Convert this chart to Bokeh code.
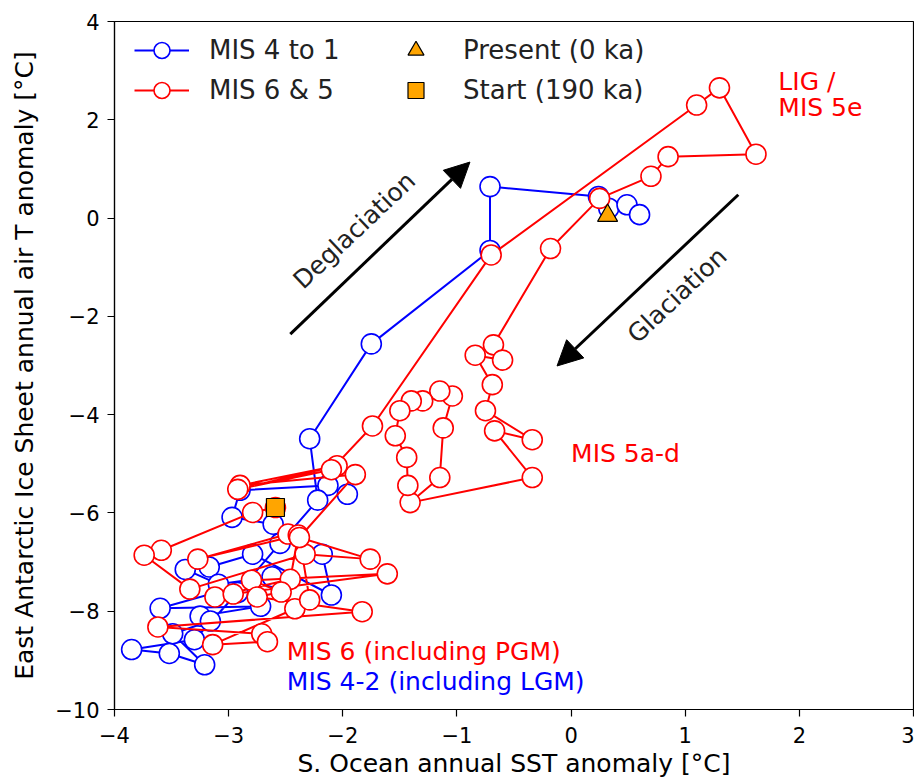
import math
from bokeh.plotting import figure
from bokeh.models import Label, Arrow, NormalHead, Legend, LegendItem, FixedTicker
from bokeh.embed import file_html
from bokeh.resources import INLINE

# ---- data ----
blue_x = [-1.96, -2.13, -2.90, -2.97, -2.61, -2.18, -2.10, -2.79, -3.17, -3.38, -3.09, -2.62,
          -3.60, -2.72, -3.25, -3.16, -3.49, -3.21, -3.52, -3.85, -3.30, -2.92, -2.55, -2.22,
          -2.29, -1.75, -0.71, -0.71, 0.24, 0.33, 0.49, 0.60]
blue_y = [-5.62, -5.44, -5.54, -6.09, -6.23, -6.84, -7.67, -6.84, -7.10, -7.15, -7.45, -7.30,
          -7.94, -7.90, -8.10, -8.20, -8.46, -9.09, -8.86, -8.78, -8.58, -7.62, -6.62, -5.74,
          -4.49, -2.56, -0.66, 0.64, 0.44, 0.20, 0.27, 0.07]

red_x = [-2.59, -2.79, -3.59, -3.74, -3.34, -2.33, -1.76, -2.48, -3.27, -2.39, -2.46, -3.12,
         -2.96, -1.61, -2.80, -2.54, -2.75, -1.83, -3.62, -2.71, -2.66, -3.14, -2.42, -2.29,
         -2.38, -1.89, -2.90, -2.05, -2.92, -2.10, -1.74, -0.70, 1.10, 1.30, 1.62, 0.85,
         0.70, 0.25, -0.18, -0.68, -0.60, -0.84, -0.69, -0.75, -0.34, -0.67, -0.34, -1.41,
         -1.15, -1.12, -1.04, -1.15, -1.30, -1.40, -1.50, -1.54, -1.44, -1.43]
red_y = [-5.89, -5.99, -6.76, -6.86, -7.55, -6.84, -6.94, -6.43, -6.94, -6.45, -7.35, -7.71,
         -7.65, -7.24, -7.37, -7.61, -7.71, -8.01, -8.32, -8.46, -8.62, -8.68, -7.95, -7.77,
         -6.50, -5.22, -5.44, -5.04, -5.52, -5.12, -4.23, -0.75, 2.30, 2.65, 1.30, 1.25,
         0.85, 0.40, -0.62, -2.58, -2.89, -2.79, -3.39, -3.92, -4.51, -4.33, -5.28, -5.79,
         -5.28, -4.27, -3.62, -3.52, -3.72, -3.72, -3.92, -4.43, -4.87, -5.44]

present_x = [0.32]
present_y = [0.05]
start_x = [-2.59]
start_y = [-5.89]

x_ticks = [-4, -3, -2, -1, 0, 1, 2, 3]
x_tick_labels = ["\u22124", "\u22123", "\u22122", "\u22121", "0", "1", "2", "3"]
y_ticks = [-10, -8, -6, -4, -2, 0, 2, 4]
y_tick_labels = ["\u221210", "\u22128", "\u22126", "\u22124", "\u22122", "0", "2", "4"]

FONT = "DejaVu Sans"
BLUE = "#0000ff"
RED = "#ff0000"

W, H = 914, 780
TOP, LEFT = 21, 114
p = figure(width=W, height=H, x_range=(-4, 3), y_range=(-10, 4),
           output_backend="svg", toolbar_location=None,
           min_border_left=LEFT, min_border_right=1, min_border_top=TOP, min_border_bottom=10)
p.xgrid.visible = False
p.ygrid.visible = False
p.outline_line_color = "black"
p.outline_line_width = 1.2
p.background_fill_color = "white"

for ax, ticks, labs, lab in ((p.xaxis[0], x_ticks, x_tick_labels, "S. Ocean annual SST anomaly [°C]"),
                             (p.yaxis[0], y_ticks, y_tick_labels, "East Antarctic Ice Sheet annual air T anomaly [°C]")):
    ax.ticker = FixedTicker(ticks=ticks)
    ax.major_label_overrides = {t: s for t, s in zip(ticks, labs)}
    ax.axis_label = lab
    ax.axis_label_text_font = FONT
    ax.axis_label_text_font_size = "25px"
    ax.axis_label_text_font_style = "normal"
    ax.axis_label_text_color = "black"
    ax.major_label_text_font = FONT
    ax.major_label_text_font_size = "21px"
    ax.major_label_text_color = "black"
    ax.major_tick_out = 7
    ax.major_tick_in = 0
    ax.major_tick_line_color = "black"
    ax.major_tick_line_width = 1.2
    ax.minor_tick_line_color = None
    ax.axis_line_color = "black"
    ax.axis_line_width = 1.2

p.xaxis[0].major_label_standoff = 10
p.xaxis[0].axis_label_standoff = 3
p.yaxis[0].major_label_standoff = 8
p.yaxis[0].axis_label_standoff = 13

# series
bl = p.line(blue_x, blue_y, line_color=BLUE, line_width=2)
bs = p.scatter(blue_x, blue_y, marker="circle", size=20, fill_color="white",
               line_color=BLUE, line_width=1.6)
rl = p.line(red_x, red_y, line_color=RED, line_width=2)
rs = p.scatter(red_x, red_y, marker="circle", size=20, fill_color="white",
               line_color=RED, line_width=1.6)
pt = p.scatter(present_x, present_y, marker="triangle", size=20, fill_color="#ffa500",
               line_color="black", line_width=1.2)
st = p.scatter(start_x, start_y, marker="square", size=18, fill_color="#ffa500",
               line_color="black", line_width=1.2)

# arrows
p.add_layout(Arrow(x_start=-2.46, y_start=-2.36, x_end=-0.886, y_end=1.14,
                   line_color="black", line_width=3,
                   end=NormalHead(size=25, fill_color="black", line_color="black")))
p.add_layout(Arrow(x_start=1.465, y_start=0.475, x_end=-0.123, y_end=-3.01,
                   line_color="black", line_width=3,
                   end=NormalHead(size=25, fill_color="black", line_color="black")))

ang = math.radians(43.4)
def lab(x, y, text, color, angle=0.0, align="left"):
    p.add_layout(Label(x=x, y=y, text=text, text_color=color, text_font=FONT,
                       text_font_size="25px", text_baseline="middle", text_align=align,
                       angle=angle))

lab(-1.90, -0.25, "Deglaciation", "#222222", ang, "center")
lab(0.93, -1.57, "Glaciation", "#222222", ang, "center")
lab(1.816, 2.78, "LIG /", RED)
lab(1.816, 2.26, "MIS 5e", RED)
lab(0.0, -4.79, "MIS 5a-d", RED)
lab(-2.49, -8.82, "MIS 6 (including PGM)", RED)
lab(-2.49, -9.43, "MIS 4-2 (including LGM)", BLUE)

# legend: two columns, placed just under the top edge of the frame
frame_h = 713 - 22
legend_h = 2 * 10 + 2 * 40
legend = Legend(items=[LegendItem(label="MIS 4 to 1", renderers=[bl, bs]),
                       LegendItem(label="MIS 6 & 5", renderers=[rl, rs]),
                       LegendItem(label="Present (0 ka)", renderers=[pt]),
                       LegendItem(label="Start (190 ka)", renderers=[st])],
                location=(10, frame_h - legend_h - 2), nrows=2, orientation="vertical",
                glyph_width=55, glyph_height=40, spacing=0, label_standoff=20,
                label_width=179, label_text_font=FONT, label_text_font_size="26px",
                label_text_color="#222222",
                label_height=40, padding=10, margin=0,
                border_line_alpha=0, background_fill_alpha=0)
p.add_layout(legend)

open("out.html", "w").write(file_html(p, INLINE))
